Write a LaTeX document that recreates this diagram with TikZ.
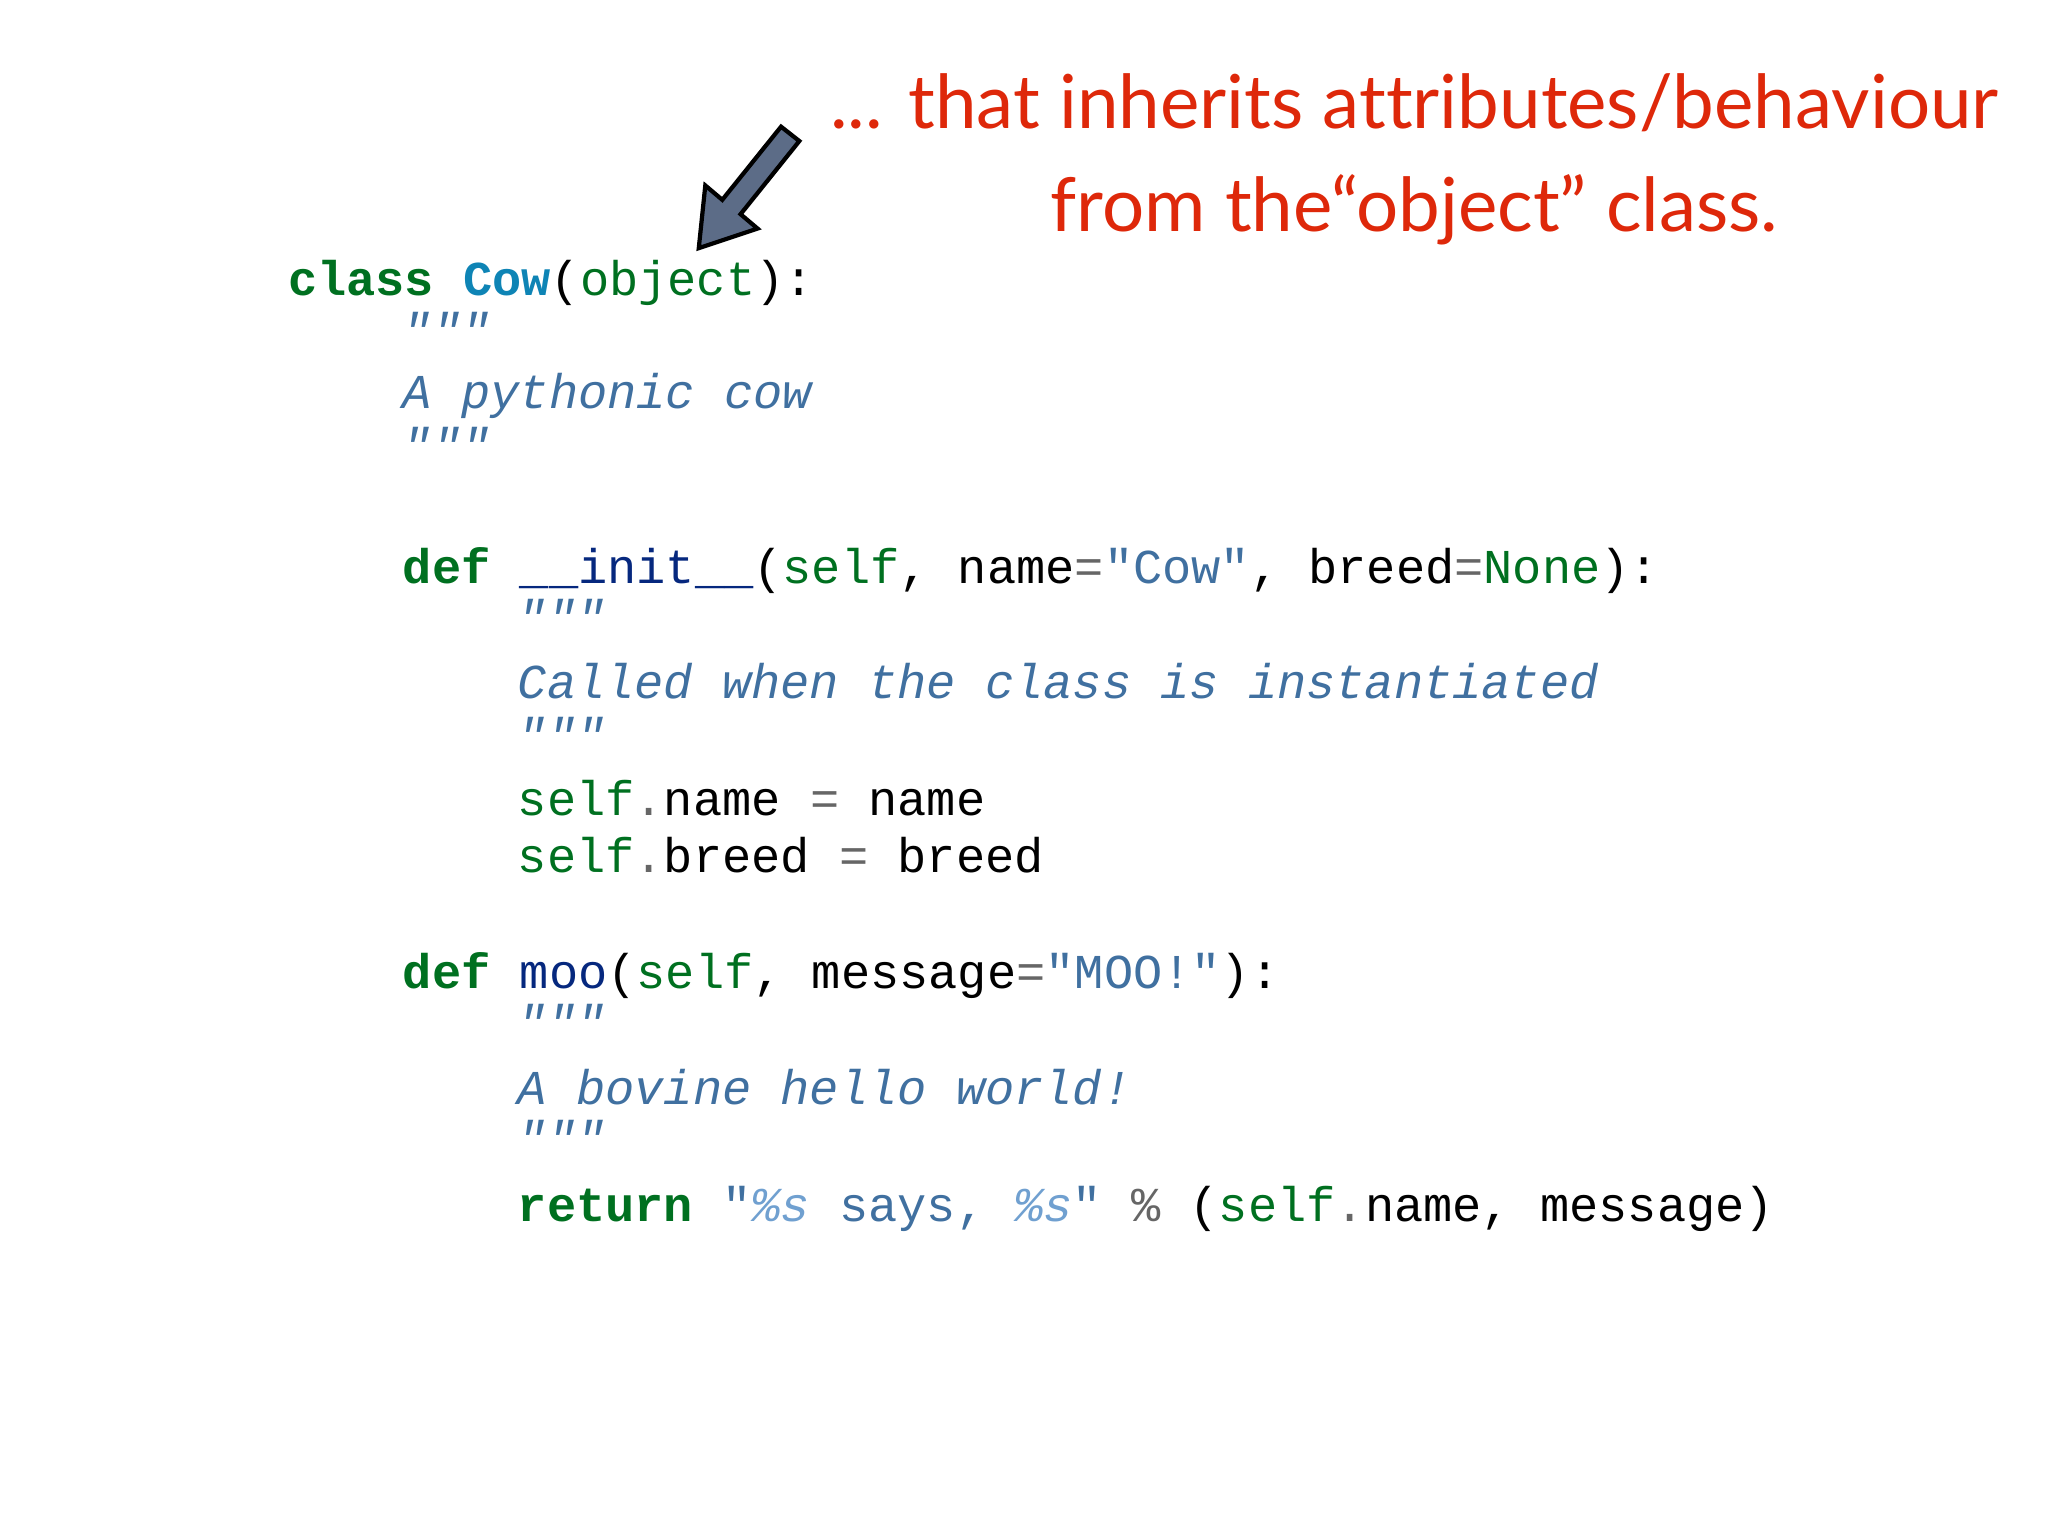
\documentclass[tikz,border=0pt]{standalone}
\usepackage{fontspec}
\setmainfont{Lato}[Ligatures=NoCommon]
\setmonofont{Liberation Mono}
\definecolor{kw}{RGB}{0,112,32}
\definecolor{cls}{RGB}{14,132,181}
\definecolor{doc}{RGB}{64,112,160}
\definecolor{fn}{RGB}{6,40,126}
\definecolor{op}{RGB}{102,102,102}
\definecolor{fmt}{RGB}{112,160,208}
\definecolor{redt}{RGB}{222,40,10}
\definecolor{arr}{RGB}{92,108,135}
\newcommand{\K}[1]{\textcolor{kw}{\bfseries #1}}
\newcommand{\G}[1]{\textcolor{kw}{#1}}
\newcommand{\D}[1]{\textcolor{doc}{\itshape #1}}
\newcommand{\Sx}[1]{\textcolor{doc}{#1}}
\newcommand{\Op}[1]{\textcolor{op}{#1}}
\tikzset{code/.style={anchor=base west,inner sep=0pt,font=\ttfamily\fontsize{13.85}{16}\selectfont}}
\begin{document}
\begin{tikzpicture}[x=0.01306cm,y=-0.01306cm]
\useasboundingbox (0,0) rectangle (1568,1176);
\node[anchor=center,align=center,text=redt,font=\fontsize{21.2}{29.5}\selectfont] (title) at (1083,122) {... that inherits attributes/behaviour\\ from the“object” class.};
\filldraw[fill=arr,draw=black,line width=1.2pt,line join=miter] (535,190) -- (540,142) -- (553,153) -- (598,97) -- (612,108) -- (567,164) -- (580,175) -- cycle;
\node[code] (l1) at (220,226) {\K{class} \textcolor{cls}{\bfseries Cow}(\G{object}):};
\node[code] (l2) at (308,266) {\D{"""}};
\node[code] (l3) at (308,313) {\D{A pythonic cow}};
\node[code] (l4) at (308,354) {\D{"""}};
\node[code] (l5) at (308,447) {\K{def} \textcolor{fn}{\_\_init\_\_}(\G{self}, name\Op{=}\Sx{"Cow"}, breed\Op{=}\G{None}):};
\node[code] (l6) at (396,486) {\D{"""}};
\node[code] (l7) at (396,535) {\D{Called when the class is instantiated}};
\node[code] (l8) at (396,576) {\D{"""}};
\node[code] (l9) at (396,624) {\G{self}\Op{.}name \Op{=} name};
\node[code] (l10) at (396,668) {\G{self}\Op{.}breed \Op{=} breed};
\node[code] (l11) at (308,757) {\K{def} \textcolor{fn}{moo}(\G{self}, message\Op{=}\Sx{"MOO!"}):};
\node[code] (l12) at (396,796) {\D{"""}};
\node[code] (l13) at (396,846) {\D{A bovine hello world!}};
\node[code] (l14) at (396,885) {\D{"""}};
\node[code] (l15) at (396,935) {\K{return} \Sx{"}\textcolor{fmt}{\itshape\%s}\Sx{\ says,\ }\textcolor{fmt}{\itshape\%s}\Sx{"} \Op{\%} (\G{self}\Op{.}name, message)};
\end{tikzpicture}
\end{document}
